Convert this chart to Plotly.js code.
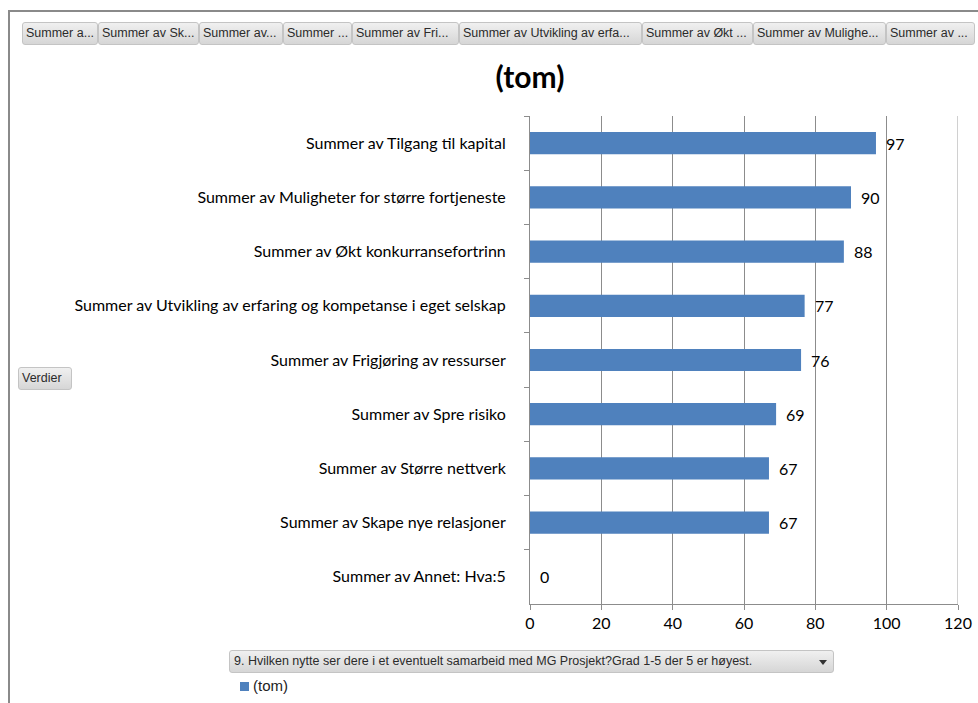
<!DOCTYPE html>
<html>
<head>
<meta charset="utf-8">
<script src="https://cdn.plot.ly/plotly-3.0.1.min.js"></script>
<style>
  html, body { margin: 0; padding: 0; background: #fff; }
  #wrap { position: relative; width: 978px; height: 703px; overflow: hidden; }
  #chart { position: absolute; left: 0; top: 0; width: 978px; height: 703px; }
  .frame-top { position: absolute; left: 8px; top: 10px; width: 970px; height: 0; border-top: 2px solid #8a8a8a; }
  .frame-left { position: absolute; left: 8px; top: 10px; width: 0; height: 693px; border-left: 2px solid #8a8a8a; }
  .btn { position: absolute; box-sizing: border-box; height: 23px; border: 1px solid #c4c4c4; border-radius: 3px;
         background: linear-gradient(#f0f0f0, #d6d6d6); font-family: "Liberation Sans", Arial, sans-serif; font-size: 12.5px;
         color: #2b2b2b; line-height: 21px; padding-left: 3px; white-space: nowrap; overflow: hidden; }
  .dd { position: absolute; box-sizing: border-box; left: 229px; top: 650px; width: 605px; height: 23px; border: 1px solid #c4c4c4; border-radius: 3px;
        background: linear-gradient(#f0f0f0, #d6d6d6); font-family: "Liberation Sans", Arial, sans-serif; font-size: 12.5px;
        color: #2b2b2b; line-height: 21px; padding-left: 4px; white-space: nowrap; }
  .dd .arrow { position: absolute; right: 6px; top: 9px; width: 0; height: 0; border-left: 4px solid transparent; border-right: 4px solid transparent; border-top: 5px solid #333; }
  .leg { position: absolute; left: 240px; top: 677px; font-family: "Liberation Sans", Arial, sans-serif; font-size: 15px; color: #222; }
  .leg .sw { display: inline-block; width: 9px; height: 9px; background: #4F81BD; margin-right: 4px; vertical-align: 0px; }
</style>
</head>
<body>
<div id="wrap">
  <div id="chart"></div>
  <div class="frame-top"></div>
  <div class="frame-left"></div>
  <div id="buttons"></div>
  <div class="btn" style="left:18px; top:367px; width:54px;">Verdier</div>
  <div class="dd"><span id="ddtext"></span><span class="arrow"></span></div>
  <div class="leg"><span class="sw"></span><span id="legtext"></span></div>
</div>
<script>
// ---- data ----
const categories = [
  "Summer av Tilgang til kapital",
  "Summer av Muligheter for større fortjeneste",
  "Summer av Økt konkurransefortrinn",
  "Summer av Utvikling av erfaring og kompetanse i eget selskap",
  "Summer av Frigjøring av ressurser",
  "Summer av Spre risiko",
  "Summer av Større nettverk",
  "Summer av Skape nye relasjoner",
  "Summer av Annet: Hva:5"
];
const values = [97, 90, 88, 77, 76, 69, 67, 67, 0];
const seriesName = "(tom)";
const xTicks = [0, 20, 40, 60, 80, 100, 120];
const fieldButtons = [
  "Summer a...", "Summer av Sk...", "Summer av...", "Summer ...", "Summer av Fri...",
  "Summer av Utvikling av erfa...", "Summer av Økt ...", "Summer av Mulighe...", "Summer av ..."
];
const dropdownText = "9. Hvilken nytte ser dere i et eventuelt samarbeid med MG Prosjekt?Grad 1-5 der 5 er høyest.";

// ---- field buttons (UI chrome) ----
const btnEdges = [22, 98, 199, 283, 352, 459, 642, 753, 886, 975];
const bc = document.getElementById('buttons');
fieldButtons.forEach((t, i) => {
  const d = document.createElement('div');
  d.className = 'btn';
  d.style.left = btnEdges[i] + 'px';
  d.style.top = '22px';
  d.style.width = (btnEdges[i + 1] - btnEdges[i]) + 'px';
  d.textContent = t;
  bc.appendChild(d);
});
document.getElementById('ddtext').textContent = dropdownText;
document.getElementById('legtext').textContent = seriesName;

const labelFont = { family: "Lato, 'Noto Sans', sans-serif", size: 16, color: "#000" };

const trace = {
  type: 'bar',
  orientation: 'h',
  x: values,
  y: categories,
  name: seriesName,
  width: 0.41,
  marker: { color: '#4F81BD', line: { width: 0 } },
  hoverinfo: 'none',
  showlegend: false
};

const annotations = values.map((v, i) => ({
  x: v, y: categories[i], xref: 'x', yref: 'y',
  text: String(v), showarrow: false, xanchor: 'left', yanchor: 'middle',
  xshift: 8, font: labelFont
}));

const layout = {
  width: 978, height: 703,
  margin: { l: 530, r: 20, t: 116, b: 99 },
  paper_bgcolor: '#fff', plot_bgcolor: '#fff',
  title: {
    text: '<b>' + seriesName + '</b>',
    font: { family: "Lato, 'Noto Sans', sans-serif", size: 30, color: '#000' },
    x: 530 / 978, xanchor: 'center', xref: 'container',
    y: 1 - 77 / 703, yanchor: 'middle', yref: 'container'
  },
  xaxis: {
    range: [0, 120], tickvals: xTicks, ticktext: xTicks.map(String),
    showgrid: true, gridcolor: '#8c8c8c', gridwidth: 1,
    showline: true, linecolor: '#8c8c8c', linewidth: 1,
    ticks: 'outside', ticklen: 5, tickcolor: '#8c8c8c',
    tickfont: labelFont, zeroline: false, fixedrange: true
  },
  yaxis: {
    autorange: 'reversed', type: 'category',
    showline: true, linecolor: '#8c8c8c', linewidth: 1,
    ticks: 'outside', ticklen: 5, tickcolor: '#8c8c8c', tickson: 'boundaries',
    ticklabelstandoff: 20,
    tickfont: labelFont, showgrid: false, zeroline: false, fixedrange: true
  },
  annotations: annotations,
  shapes: [
    { type: 'line', xref: 'x', yref: 'paper', x0: 120, x1: 120, y0: 0, y1: 1, line: { color: '#d0d0d0', width: 2 } }
  ]
};

Plotly.newPlot('chart', [trace], layout, { displayModeBar: false, staticPlot: true });
</script>
</body>
</html>
